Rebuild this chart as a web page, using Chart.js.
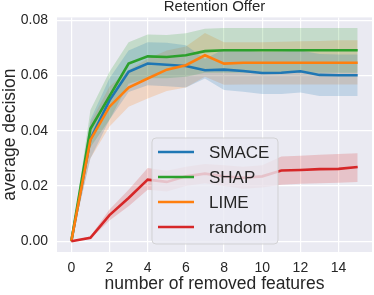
<!DOCTYPE html>
<html>
<head>
<meta charset="utf-8">
<script src="https://cdn.jsdelivr.net/npm/chart.js@4"></script>
<style>
  body { margin: 0; background: #fff; }
  #wrap { width: 374px; height: 295px; }
</style>
</head>
<body>
<div id="wrap"><canvas id="retentionChart"></canvas></div>
<script>
// number of removed features
const features = [0, 1, 2, 3, 4, 5, 6, 7, 8, 9, 10, 11, 12, 13, 14, 15];

// SMACE
const smaceMean = [0, 0.0370, 0.0510, 0.0613, 0.0643, 0.0639, 0.0634, 0.0619, 0.0621, 0.0616, 0.0609, 0.0610, 0.0615, 0.0602, 0.0601, 0.0601];
const smaceHigh = [0, 0.0440, 0.0590, 0.0690, 0.0720, 0.0718, 0.0709, 0.0660, 0.0695, 0.0690, 0.0685, 0.0687, 0.0690, 0.0678, 0.0676, 0.0676];
const smaceLow  = [0, 0.0300, 0.0440, 0.0540, 0.0565, 0.0561, 0.0556, 0.0589, 0.0547, 0.0541, 0.0533, 0.0533, 0.0538, 0.0526, 0.0526, 0.0526];

// SHAP
const shapMean = [0, 0.0407, 0.0525, 0.0643, 0.0669, 0.0667, 0.0673, 0.0688, 0.0691, 0.0691, 0.0691, 0.0691, 0.0691, 0.0691, 0.0691, 0.0691];
const shapHigh = [0, 0.0475, 0.0613, 0.0720, 0.0748, 0.0746, 0.0753, 0.0769, 0.0772, 0.0772, 0.0772, 0.0772, 0.0772, 0.0772, 0.0772, 0.0772];
const shapLow  = [0, 0.0340, 0.0440, 0.0570, 0.0590, 0.0590, 0.0595, 0.0610, 0.0610, 0.0610, 0.0610, 0.0610, 0.0610, 0.0610, 0.0610, 0.0610];

// LIME
const limeMean = [0, 0.0367, 0.0487, 0.0556, 0.0589, 0.0621, 0.0637, 0.0673, 0.0643, 0.0646, 0.0646, 0.0646, 0.0646, 0.0646, 0.0646, 0.0646];
const limeHigh = [0, 0.0430, 0.0560, 0.0620, 0.0660, 0.0690, 0.0705, 0.0754, 0.0720, 0.0720, 0.0720, 0.0722, 0.0724, 0.0725, 0.0727, 0.0727];
const limeLow  = [0, 0.0300, 0.0415, 0.0487, 0.0517, 0.0544, 0.0556, 0.0595, 0.0566, 0.0567, 0.0567, 0.0567, 0.0567, 0.0567, 0.0567, 0.0567];

// random
const randomMean = [0, 0.0013, 0.0095, 0.0157, 0.0223, 0.0215, 0.0235, 0.0245, 0.0235, 0.0230, 0.0235, 0.0256, 0.0258, 0.0261, 0.0262, 0.0269];
const randomHigh = [0, 0.0018, 0.0115, 0.0187, 0.0265, 0.0255, 0.0270, 0.0280, 0.0275, 0.0270, 0.0275, 0.0307, 0.0310, 0.0313, 0.0316, 0.0319];
const randomLow  = [0, 0.0008, 0.0075, 0.0127, 0.0187, 0.0180, 0.0200, 0.0210, 0.0200, 0.0190, 0.0195, 0.0205, 0.0208, 0.0210, 0.0212, 0.0215];

const xTicks = [0, 2, 4, 6, 8, 10, 12, 14];
const yTicks = [0, 0.02, 0.04, 0.06, 0.08];

const TEXT = "#262626";
const FONT = "'Liberation Sans', Arial, sans-serif";

const series = [
  { label: "SMACE", color: "31,119,180", mean: smaceMean, low: smaceLow, high: smaceHigh },
  { label: "SHAP", color: "44,160,44", mean: shapMean, low: shapLow, high: shapHigh },
  { label: "LIME", color: "255,127,14", mean: limeMean, low: limeLow, high: limeHigh },
  { label: "random", color: "214,39,40", mean: randomMean, low: randomLow, high: randomHigh }
];

const toPoints = arr => arr.map((v, i) => ({ x: features[i], y: v }));

// lines first (index 0..3), bands after
const datasets = [];
series.forEach((s, i) => {
  datasets.push({
    label: s.label,
    data: toPoints(s.mean),
    borderColor: `rgb(${s.color})`,
    borderWidth: 2.6,
    pointRadius: 0,
    tension: 0,
    fill: false,
    order: 3 - i
  });
});
series.forEach((s, i) => {
  const lowIndex = datasets.length + 1;
  datasets.push({
    label: s.label + " high",
    data: toPoints(s.high),
    borderWidth: 0,
    borderColor: "transparent",
    backgroundColor: `rgba(${s.color},0.2)`,
    pointRadius: 0,
    fill: { target: lowIndex },
    order: 20 + i
  });
  datasets.push({
    label: s.label + " low",
    data: toPoints(s.low),
    borderWidth: 0,
    borderColor: "transparent",
    pointRadius: 0,
    fill: false,
    order: 20 + i
  });
});

// grey plot background
const plotBackground = {
  id: "plotBackground",
  beforeDraw(chart) {
    const { ctx, chartArea: a } = chart;
    ctx.save();
    ctx.fillStyle = "#EAEAF2";
    ctx.fillRect(a.left, a.top, a.right - a.left, a.bottom - a.top);
    ctx.restore();
  }
};

// title + legend drawn inside the plot, matplotlib style
const overlay = {
  id: "overlay",
  afterDraw(chart) {
    const { ctx, chartArea: a } = chart;
    ctx.save();
    ctx.fillStyle = TEXT;
    ctx.font = `15px ${FONT}`;
    ctx.textAlign = "center";
    ctx.textBaseline = "middle";
    ctx.fillText("Retention Offer", (a.left + a.right) / 2, 7);

    // legend box
    const bx = 152, by = 138, bw = 126, bh = 106, r = 4;
    ctx.beginPath();
    ctx.roundRect(bx, by, bw, bh, r);
    ctx.fillStyle = "rgba(234,234,242,0.8)";
    ctx.fill();
    ctx.lineWidth = 1;
    ctx.strokeStyle = "rgba(204,204,204,0.8)";
    ctx.stroke();

    ctx.font = `17px ${FONT}`;
    ctx.textAlign = "left";
    series.forEach((s, i) => {
      const y = 152 + i * 25;
      ctx.beginPath();
      ctx.moveTo(158, y);
      ctx.lineTo(194, y);
      ctx.strokeStyle = `rgb(${s.color})`;
      ctx.lineWidth = 2.6;
      ctx.stroke();
      ctx.fillStyle = TEXT;
      ctx.fillText(s.label, 209, y + 1);
    });
    ctx.restore();
  }
};

new Chart(document.getElementById("retentionChart"), {
  type: "line",
  data: { datasets },
  options: {
    responsive: true,
    maintainAspectRatio: false,
    animation: false,
    layout: { padding: { top: 17, right: 2, left: 0, bottom: 0 } },
    plugins: {
      legend: { display: false },
      tooltip: { enabled: false },
      filler: { drawTime: "beforeDatasetsDraw" }
    },
    scales: {
      x: {
        type: "linear",
        min: -0.75,
        max: 15.75,
        afterBuildTicks: scale => { scale.ticks = xTicks.map(v => ({ value: v })); },
        afterFit: scale => { scale.height = 43; },
        grid: { color: "#ffffff", lineWidth: 1.2, drawTicks: false },
        border: { display: false },
        ticks: { color: TEXT, font: { family: FONT, size: 14 }, padding: 8, maxRotation: 0 },
        title: {
          display: true,
          text: "number of removed features",
          color: TEXT,
          font: { family: FONT, size: 17.5 },
          padding: { top: 0, bottom: 0 }
        }
      },
      y: {
        min: -0.00386,
        max: 0.0810,
        afterBuildTicks: scale => { scale.ticks = yTicks.map(v => ({ value: v })); },
        afterFit: scale => { scale.width = 57; },
        grid: { color: "#ffffff", lineWidth: 1.2, drawTicks: false },
        border: { display: false },
        ticks: {
          color: TEXT,
          font: { family: FONT, size: 14 },
          padding: 9,
          callback: v => v.toFixed(2)
        },
        title: {
          display: true,
          text: "average decision",
          color: TEXT,
          font: { family: FONT, size: 17.5 },
          padding: { top: 0, bottom: 0 }
        }
      }
    }
  },
  plugins: [plotBackground, overlay]
});
</script>
</body>
</html>
